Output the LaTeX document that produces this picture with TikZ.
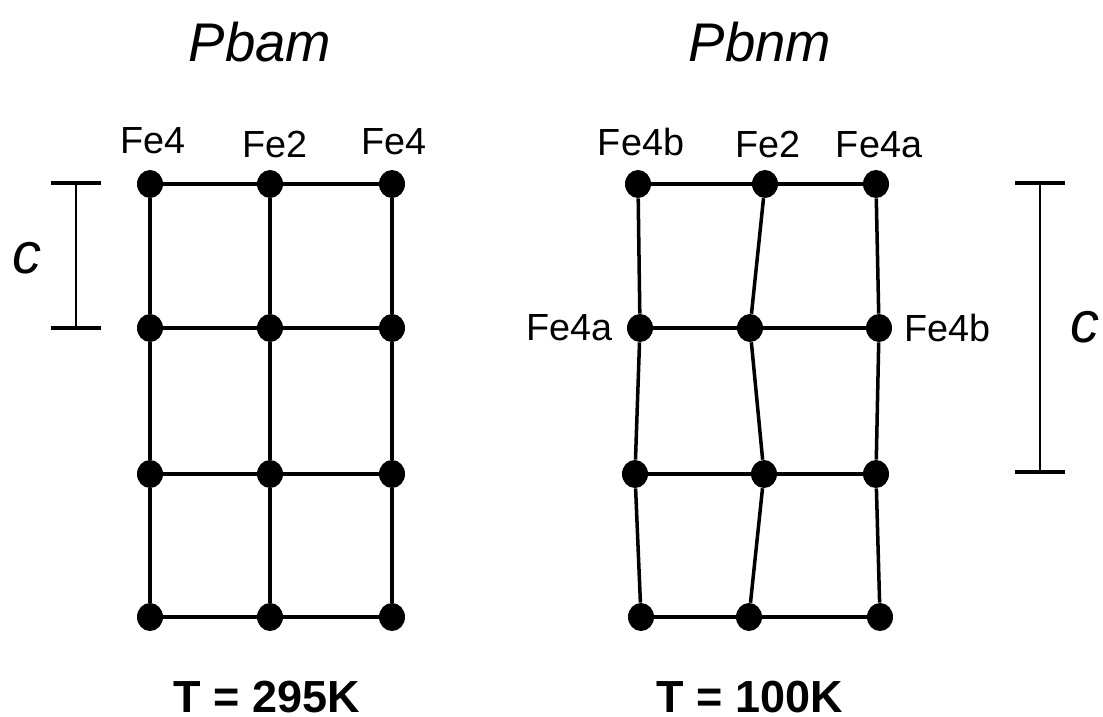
\documentclass[tikz,border=0pt]{standalone}
\usepackage{fontspec}
\setmainfont{Liberation Sans}
\usetikzlibrary{shapes.geometric,positioning,calc}

\tikzset{
  site/.style={ellipse, fill=black, inner sep=0pt, minimum width=0.52cm, minimum height=0.56cm},
  bond/.style={line width=2pt},
  atom/.style={font=\fontsize{21.5}{24}\selectfont, inner sep=0pt},
  group/.style={font=\fontsize{31}{34}\selectfont\itshape},
  temp/.style={font=\fontsize{25.6}{30}\selectfont\bfseries, inner sep=0pt},
  axis/.style={font=\fontsize{33}{36}\selectfont\itshape},
  barline/.style={line width=1.4pt},
  tick/.style={line width=2.3pt}
}

\begin{document}
\begin{tikzpicture}[x=0.02cm, y=-0.02cm]
    \useasboundingbox (0,0) rectangle (1103,717);

    % Pbam, 295 K: straight columns
    \node[group] (pbam) at (260,42) {Pbam};
    \foreach \r/\y in {1/184,2/328,3/474,4/617}
      \foreach \c/\x in {1/150,2/270,3/392}
        \node[site] (L\c\r) at (\x,\y) {};
    \foreach \r in {1,...,4}
      \draw[bond] (L1\r) -- (L2\r) -- (L3\r);
    \foreach \c in {1,2,3}
      \draw[bond] (L\c1) -- (L\c2) -- (L\c3) -- (L\c4);

    \node[atom, anchor=base] (fe4l) at (153,153) {Fe4};
    \node[atom, anchor=base] (fe2l) at (275,157) {Fe2};
    \node[atom, anchor=base] (fe4r) at (394,154) {Fe4};
    \node[temp, anchor=base] (t295) at (267,712) {T = 295K};

    % c bar of the small cell
    \coordinate (ctopL) at (76,183);
    \coordinate (cbotL) at (76,328);
    \draw[barline] (ctopL) -- (cbotL);
    \draw[tick] ($(ctopL)+(-25,0)$) -- ($(ctopL)+(25,0)$);
    \draw[tick] ($(cbotL)+(-25,0)$) -- ($(cbotL)+(25,0)$);
    \node[axis] (cL) at (27,258) {c};

    % Pbnm, 100 K: buckled columns
    \node[group] (pbnm) at (760,42) {Pbnm};
    \foreach \c/\x/\y in {1/638/184,2/765/184,3/876/184,
                          1/640/328,2/750/328,3/879/328}
      \node[site] (R\c\y) at (\x,\y) {};
    \foreach \c/\x/\y in {1/635/474,2/764/474,3/876/474,
                          1/641/617,2/749/617,3/880/617}
      \node[site] (R\c\y) at (\x,\y) {};
    \foreach \y in {184,328,474,617}
      \draw[bond] (R1\y) -- (R2\y) -- (R3\y);
    \foreach \c in {1,2,3}
      \draw[bond] (R\c184) -- (R\c328) -- (R\c474) -- (R\c617);

    \node[atom, anchor=base] (fe4b) at (641,155) {Fe4b};
    \node[atom, anchor=base] (fe2m) at (768,157) {Fe2};
    \node[atom, anchor=base] (fe4a) at (879,157) {Fe4a};
    \node[atom, left=8pt of R1328] (fe4a2) {Fe4a};
    \node[atom, right=6.5pt of R3328] (fe4b2) {Fe4b};
    \node[temp, anchor=base] (t100) at (750,712) {T = 100K};

    % c bar of the doubled cell
    \coordinate (ctopR) at (1040,183);
    \coordinate (cbotR) at (1040,472);
    \draw[barline] (ctopR) -- (cbotR);
    \draw[tick] ($(ctopR)+(-25,0)$) -- ($(ctopR)+(25,0)$);
    \draw[tick] ($(cbotR)+(-25,0)$) -- ($(cbotR)+(25,0)$);
    \node[axis] (cR) at (1085,327) {c};
\end{tikzpicture}
\end{document}
